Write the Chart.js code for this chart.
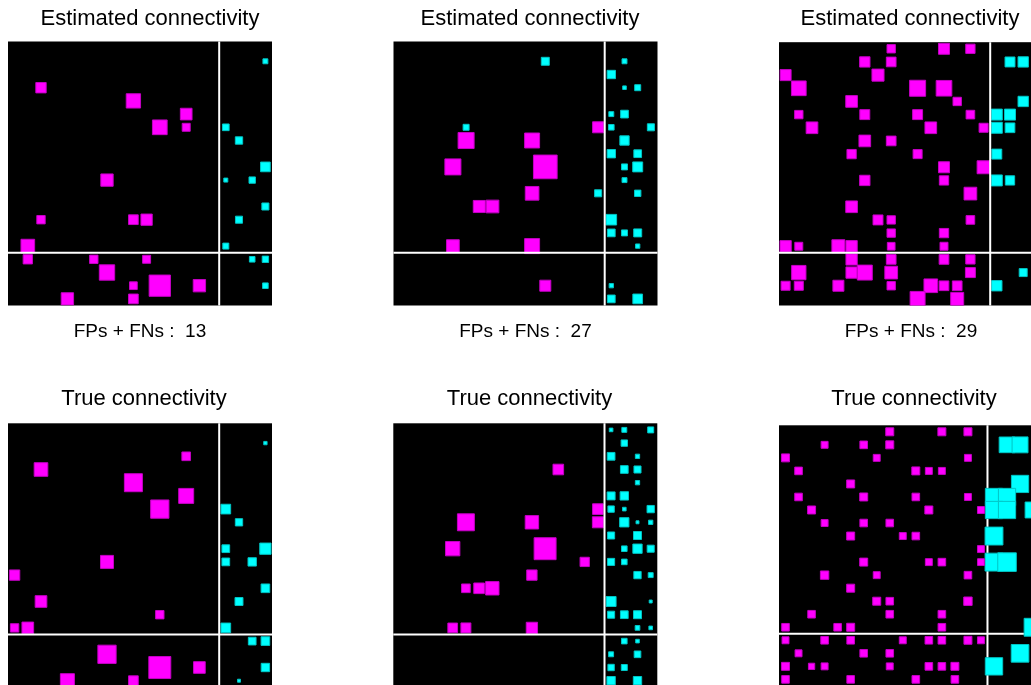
<!DOCTYPE html>
<html>
<head>
<meta charset="utf-8">
<script src="https://cdn.jsdelivr.net/npm/chart.js@4.4.1/dist/chart.umd.min.js"></script>
<style>
  html, body { margin: 0; padding: 0; background: #fff; overflow: hidden; }
  body { width: 1031px; height: 685px; position: relative; }
  canvas { position: absolute; }
</style>
</head>
<body>
<canvas id="c0"></canvas>
<canvas id="c1"></canvas>
<canvas id="c2"></canvas>
<canvas id="c3"></canvas>
<canvas id="c4"></canvas>
<canvas id="c5"></canvas>
<script>
// connectivity matrices, 20 nodes each: [row, col, weight]
// weight > 0 drawn magenta, < 0 cyan, square side = |weight| cells
const N = 20;
const split = 16;

const estimatedA = [
  [1, 19, -0.45], [3, 2, 0.86], [4, 9, 1.16], [5, 13, 0.96], [6, 11, 1.19], [6, 13, 0.68],
  [6, 16, -0.58], [7, 17, -0.63], [9, 19, -0.81], [10, 7, 1.01], [10, 16, -0.38], [10, 18, -0.56],
  [12, 19, -0.61], [13, 2, 0.71], [13, 9, 0.81], [13, 10, 0.93], [13, 17, -0.61], [15, 1, 1.11],
  [15, 16, -0.53], [16, 1, 0.78], [16, 6, 0.71], [16, 10, 0.68], [16, 18, -0.5], [16, 19, -0.56],
  [17, 7, 1.24], [18, 9, 0.66], [18, 11, 1.69], [18, 14, 1.01], [18, 19, -0.5], [19, 4, 1.01],
  [19, 9, 0.81]
];

const estimatedB = [
  [1, 11, -0.68], [1, 17, -0.45], [2, 16, -0.71], [3, 17, -0.35], [3, 18, -0.53],
  [5, 16, -0.45], [5, 17, -0.66], [6, 5, -0.53], [6, 15, 0.91], [6, 16, -0.5], [6, 19, -0.61],
  [7, 5, 1.29], [7, 10, 1.21], [7, 17, -0.78], [8, 16, -0.71], [8, 18, -0.66],
  [9, 4, 1.29], [9, 11, 1.87], [9, 17, -0.53], [9, 18, -0.83], [10, 17, -0.45],
  [11, 10, 1.11], [11, 15, -0.61], [11, 18, -0.56], [12, 6, 0.99], [12, 7, 1.04],
  [13, 16, -0.88], [14, 16, -0.66], [14, 17, -0.53], [14, 18, -0.68],
  [15, 4, 1.04], [15, 10, 1.21], [15, 18, -0.4], [18, 11, 0.91], [18, 16, -0.4],
  [19, 16, -0.66], [19, 18, -0.81]
];

const estimatedC = [
  [0, 8, 0.71], [0, 12, 0.91], [0, 14, 0.78],
  [1, 6, 0.86], [1, 8, 0.81], [1, 17, -0.83], [1, 18, -0.86],
  [2, 0, 0.91], [2, 7, 0.99],
  [3, 1, 1.19], [3, 10, 1.29], [3, 12, 1.26],
  [4, 5, 0.96], [4, 13, 0.71], [4, 18, -0.86],
  [5, 1, 0.71], [5, 6, 0.83], [5, 10, 0.83], [5, 14, 0.73], [5, 16, -0.91], [5, 17, -0.91],
  [6, 2, 0.96], [6, 11, 0.96], [6, 15, 0.76], [6, 16, -0.91], [6, 17, -0.81],
  [7, 6, 0.96], [7, 8, 0.81],
  [8, 5, 0.78], [8, 10, 0.76], [8, 16, -0.83],
  [9, 12, 0.91], [9, 15, 1.06],
  [10, 6, 0.86], [10, 12, 0.78], [10, 16, -0.91], [10, 17, -0.78],
  [11, 14, 1.04],
  [12, 5, 0.96],
  [13, 7, 0.83], [13, 8, 0.71], [13, 14, 0.73],
  [14, 8, 0.71], [14, 12, 0.78],
  [15, 0, 0.93], [15, 1, 0.68], [15, 4, 1.06], [15, 5, 0.93], [15, 8, 0.66], [15, 12, 0.68],
  [16, 5, 0.93], [16, 8, 0.81], [16, 12, 0.81], [16, 14, 0.78],
  [17, 1, 1.16], [17, 5, 0.93], [17, 6, 1.21], [17, 8, 1.04], [17, 14, 0.83], [17, 18, -0.68],
  [18, 0, 0.76], [18, 1, 0.76], [18, 4, 0.91], [18, 8, 0.71], [18, 11, 1.11], [18, 12, 0.81],
  [18, 13, 0.81], [18, 16, -0.86],
  [19, 10, 1.21], [19, 13, 1.06]
];

const trueA = [
  [1, 19, -0.33], [2, 13, 0.73], [3, 2, 1.11], [4, 9, 1.44], [5, 13, 1.21],
  [6, 11, 1.46], [6, 16, -0.81], [7, 17, -0.63], [9, 16, -0.66], [9, 19, -0.93],
  [10, 7, 1.06], [10, 16, -0.66], [10, 18, -0.71], [11, 0, 0.86], [12, 19, -0.73],
  [13, 2, 0.96], [13, 17, -0.68], [14, 11, 0.71], [15, 0, 0.71], [15, 1, 0.96],
  [15, 16, -0.81], [16, 18, -0.66], [16, 19, -0.73], [17, 7, 1.46], [18, 11, 1.74],
  [18, 14, 0.96], [18, 19, -0.71], [19, 4, 1.14], [19, 9, 0.81], [19, 17, -0.3]
];

const trueB = [
  [0, 16, -0.35], [0, 17, -0.45], [0, 19, -0.53], [1, 17, -0.56], [2, 16, -0.66], [2, 18, -0.4],
  [3, 12, 0.88], [3, 17, -0.66], [3, 18, -0.61], [4, 18, -0.4], [5, 16, -0.68], [5, 17, -0.71],
  [6, 15, 0.88], [6, 16, -0.56], [6, 17, -0.35], [6, 19, -0.63],
  [7, 5, 1.36], [7, 10, 1.09], [7, 15, 0.91], [7, 17, -0.78], [7, 18, -0.3], [7, 19, -0.4],
  [8, 16, -0.61], [8, 18, -0.68],
  [9, 4, 1.16], [9, 11, 1.74], [9, 17, -0.5], [9, 18, -0.78], [9, 19, -0.61],
  [10, 14, 0.78], [10, 16, -0.61], [10, 17, -0.5],
  [11, 10, 0.86], [11, 18, -0.63], [11, 19, -0.45],
  [12, 5, 0.73], [12, 6, 0.88], [12, 7, 1.09],
  [13, 16, -0.83], [13, 19, -0.3],
  [14, 16, -0.61], [14, 17, -0.66], [14, 18, -0.68],
  [15, 4, 0.81], [15, 5, 0.83], [15, 10, 0.93], [15, 18, -0.43], [15, 19, -0.35],
  [16, 17, -0.5], [16, 18, -0.35], [17, 16, -0.45], [17, 18, -0.58],
  [18, 16, -0.56], [18, 17, -0.53], [19, 16, -0.71], [19, 18, -0.71]
];

const trueC = [
  [0, 8, 0.69], [0, 12, 0.69], [0, 14, 0.69],
  [1, 3, 0.61], [1, 6, 0.66], [1, 8, 0.69], [1, 17, -1.28], [1, 18, -1.3],
  [2, 0, 0.69], [2, 7, 0.61], [2, 14, 0.61],
  [3, 1, 0.66], [3, 10, 0.69], [3, 11, 0.61], [3, 12, 0.61],
  [4, 5, 0.69], [4, 18, -1.4],
  [5, 1, 0.66], [5, 6, 0.69], [5, 10, 0.66], [5, 14, 0.61], [5, 16, -1.4], [5, 17, -1.4],
  [6, 2, 0.69], [6, 11, 0.69], [6, 15, 0.61], [6, 16, -1.4], [6, 17, -1.4], [6, 19, -1.3],
  [7, 3, 0.61], [7, 6, 0.66], [7, 8, 0.66],
  [8, 5, 0.69], [8, 9, 0.61], [8, 10, 0.66], [8, 16, -1.45],
  [9, 15, 0.61],
  [10, 6, 0.69], [10, 11, 0.61], [10, 12, 0.66], [10, 15, 0.6], [10, 16, -1.45], [10, 17, -1.5],
  [11, 3, 0.72], [11, 7, 0.61], [11, 14, 0.66],
  [12, 5, 0.69],
  [13, 7, 0.69], [13, 8, 0.66], [13, 14, 0.72],
  [14, 2, 0.66], [14, 8, 0.66], [14, 12, 0.66],
  [15, 0, 0.66], [15, 4, 0.66], [15, 5, 0.69], [15, 12, 0.66], [15, 19, -1.45],
  [16, 0, 0.61], [16, 3, 0.66], [16, 5, 0.66], [16, 9, 0.61], [16, 11, 0.66], [16, 12, 0.66],
  [16, 14, 0.69], [16, 15, 0.61],
  [17, 1, 0.61], [17, 6, 0.66], [17, 8, 0.66], [17, 18, -1.43],
  [18, 0, 0.69], [18, 2, 0.56], [18, 3, 0.61], [18, 8, 0.61], [18, 11, 0.66], [18, 12, 0.66],
  [18, 13, 0.69], [18, 16, -1.41],
  [19, 0, 0.66], [19, 5, 0.66], [19, 10, 0.66], [19, 13, 0.66]
];

const titles = ['Estimated connectivity', 'True connectivity'];
const errorCounts = [13, 27, 29];

const FONT = "'Liberation Sans', Arial, sans-serif";

// canvas placement: x/y/w/h of the canvas, gl/gr = side gutters,
// tb = gap under the title, pb = bottom padding
const panels = [
  { data: estimatedA, title: titles[0], count: errorCounts[0], x: 4, y: 0, w: 292, h: 346, gl: 4, gr: 24, tb: 9.2, pb: 0 },
  { data: estimatedB, title: titles[0], count: errorCounts[1], x: 390, y: 0, w: 280, h: 346, gl: 3.5, gr: 12.5, tb: 9.2, pb: 0 },
  { data: estimatedC, title: titles[0], count: errorCounts[2], x: 775, y: 0, w: 270, h: 346, gl: 4, gr: 2, tb: 9.9, pb: 0 },
  { data: trueA, title: titles[1], count: null, x: 4, y: 380, w: 280, h: 310, gl: 4, gr: 12, tb: 11.0, pb: 2.7 },
  { data: trueB, title: titles[1], count: null, x: 390, y: 380, w: 279, h: 310, gl: 3.3, gr: 11.7, tb: 11.0, pb: 2.7 },
  { data: trueC, title: titles[1], count: null, x: 775, y: 380, w: 278, h: 310, gl: 4, gr: 13.4, tb: 13.0, pb: 4.1, linesUnder: true }
];

// black matrix background plus white block separators
const matrixFrame = {
  id: 'matrixFrame',
  beforeDatasetsDraw(chart, args, opts) {
    const { ctx, chartArea: a } = chart;
    ctx.save();
    ctx.fillStyle = '#000';
    ctx.fillRect(a.left, a.top, a.width, a.height);
    ctx.restore();
    if (opts.linesUnder) drawSplit(chart);
  },
  afterDatasetsDraw(chart, args, opts) {
    if (!opts.linesUnder) drawSplit(chart);
  }
};

function drawSplit(chart) {
  const { ctx, chartArea: a, scales: { x, y } } = chart;
  const px = x.getPixelForValue(split - 0.5);
  const py = y.getPixelForValue(split - 0.5);
  ctx.save();
  ctx.strokeStyle = '#fff';
  ctx.lineWidth = 2;
  ctx.beginPath();
  ctx.moveTo(px, a.top);
  ctx.lineTo(px, a.bottom);
  ctx.moveTo(a.left, py);
  ctx.lineTo(a.right, py);
  ctx.stroke();
  ctx.restore();
}

function squareRadius(ctx) {
  if (!ctx.raw) return 0;
  const sx = ctx.chart.scales.x;
  const cell = Math.abs(sx.getPixelForValue(1) - sx.getPixelForValue(0));
  return Math.max(Math.abs(ctx.raw.w) * cell - 1, 0) / Math.SQRT2;
}

function gutter(position, width) {
  return {
    type: 'linear',
    position: position,
    display: true,
    grid: { display: false, drawTicks: false },
    border: { display: false },
    ticks: { display: false },
    afterFit: s => { s.width = width; }
  };
}

function toPoints(entries, positive) {
  return entries
    .filter(e => positive ? e[2] > 0 : e[2] < 0)
    .map(([r, c, w]) => ({ x: c, y: r, w: w }));
}

panels.forEach((p, i) => {
  const canvas = document.getElementById('c' + i);
  canvas.width = p.w;
  canvas.height = p.h;
  canvas.style.left = p.x + 'px';
  canvas.style.top = p.y + 'px';

  const hasCount = p.count !== null;

  new Chart(canvas.getContext('2d'), {
    type: 'scatter',
    data: {
      datasets: [
        {
          data: toPoints(p.data, true),
          pointStyle: 'rect',
          backgroundColor: '#ff00ff',
          borderColor: '#c400c4',
          borderWidth: 1,
          pointRadius: squareRadius,
          clip: 0
        },
        {
          data: toPoints(p.data, false),
          pointStyle: 'rect',
          backgroundColor: '#00ffff',
          borderColor: '#00c4c4',
          borderWidth: 1,
          pointRadius: squareRadius,
          clip: 0
        }
      ]
    },
    options: {
      responsive: false,
      animation: false,
      events: [],
      layout: { padding: { top: 0, left: 0, right: 0, bottom: p.pb }, autoPadding: false },
      plugins: {
        legend: { display: false },
        tooltip: { enabled: false },
        title: {
          display: true,
          text: p.title,
          color: '#000',
          font: { family: FONT, size: 22, weight: 'normal' },
          padding: { top: 5.9, bottom: p.tb }
        },
        matrixFrame: { linesUnder: !!p.linesUnder }
      },
      scales: {
        x: {
          type: 'linear',
          min: -0.5,
          max: N - 0.5,
          display: hasCount,
          grid: { display: false, drawTicks: false },
          border: { display: false },
          ticks: { display: false },
          title: {
            display: hasCount,
            text: 'FPs + FNs :  ' + p.count,
            color: '#000',
            font: { family: FONT, size: 19, weight: 'normal' },
            padding: { top: 14.4, bottom: 3.3 }
          }
        },
        y: {
          type: 'linear',
          min: -0.5,
          max: N - 0.5,
          reverse: true,
          display: false
        },
        gl: gutter('left', p.gl),
        gr: gutter('right', p.gr)
      }
    },
    plugins: [matrixFrame]
  });
});
</script>
</body>
</html>
